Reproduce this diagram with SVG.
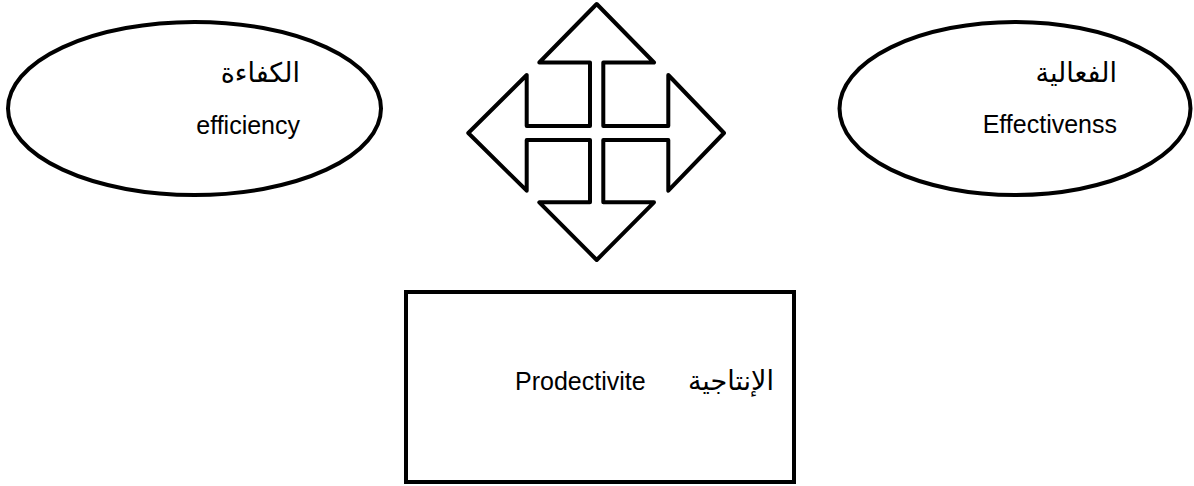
<svg xmlns="http://www.w3.org/2000/svg" width="1194" height="486" viewBox="0 0 1194 486">
<style>
.shape{fill:#fff;stroke:#000;stroke-width:4}
.lat{font-family:"Liberation Sans",Arial,sans-serif;font-size:25px;fill:#000}
.ar{font-family:"DejaVu Sans","Noto Sans",sans-serif;font-size:27px;fill:#000}
</style>
<rect width="1194" height="486" fill="#fff"/>
<g id="efficiency">
<ellipse class="shape" cx="194.5" cy="108.5" rx="186.5" ry="86.5"/>
<text class="ar" x="300" y="82" text-anchor="end">الكفاءة</text>
<text class="lat" x="300" y="134" text-anchor="end">efficiency</text>
</g>
<g id="effectiveness">
<ellipse class="shape" cx="1015" cy="108.5" rx="175.5" ry="86.5"/>
<text class="ar" x="1117" y="82" text-anchor="end">الفعالية</text>
<text class="lat" x="1117" y="133" text-anchor="end">Effectivenss</text>
</g>
<g id="connectors">
<path class="shape" stroke-width="4.5" stroke-linejoin="round" d="M596.7,4 L654,62.5 L603.3,62.5 L603.3,126 L668.3,126 L668.3,75 L724,133 L668.3,190.7 L668.3,140 L603.3,140 L603.3,202.3 L654,202.3 L596.7,260 L539.3,202.3 L590,202.3 L590,140 L526.7,140 L526.7,190.7 L468.3,133 L526.7,75 L526.7,126 L590,126 L590,62.5 L539.3,62.5 Z"/>
</g>
<g id="productivity">
<rect class="shape" x="406" y="292" width="388" height="190"/>
<text class="lat" x="515" y="390">Prodectivite</text>
<text class="ar" x="774" y="390" text-anchor="end">الإنتاجية</text>
</g>
</svg>
